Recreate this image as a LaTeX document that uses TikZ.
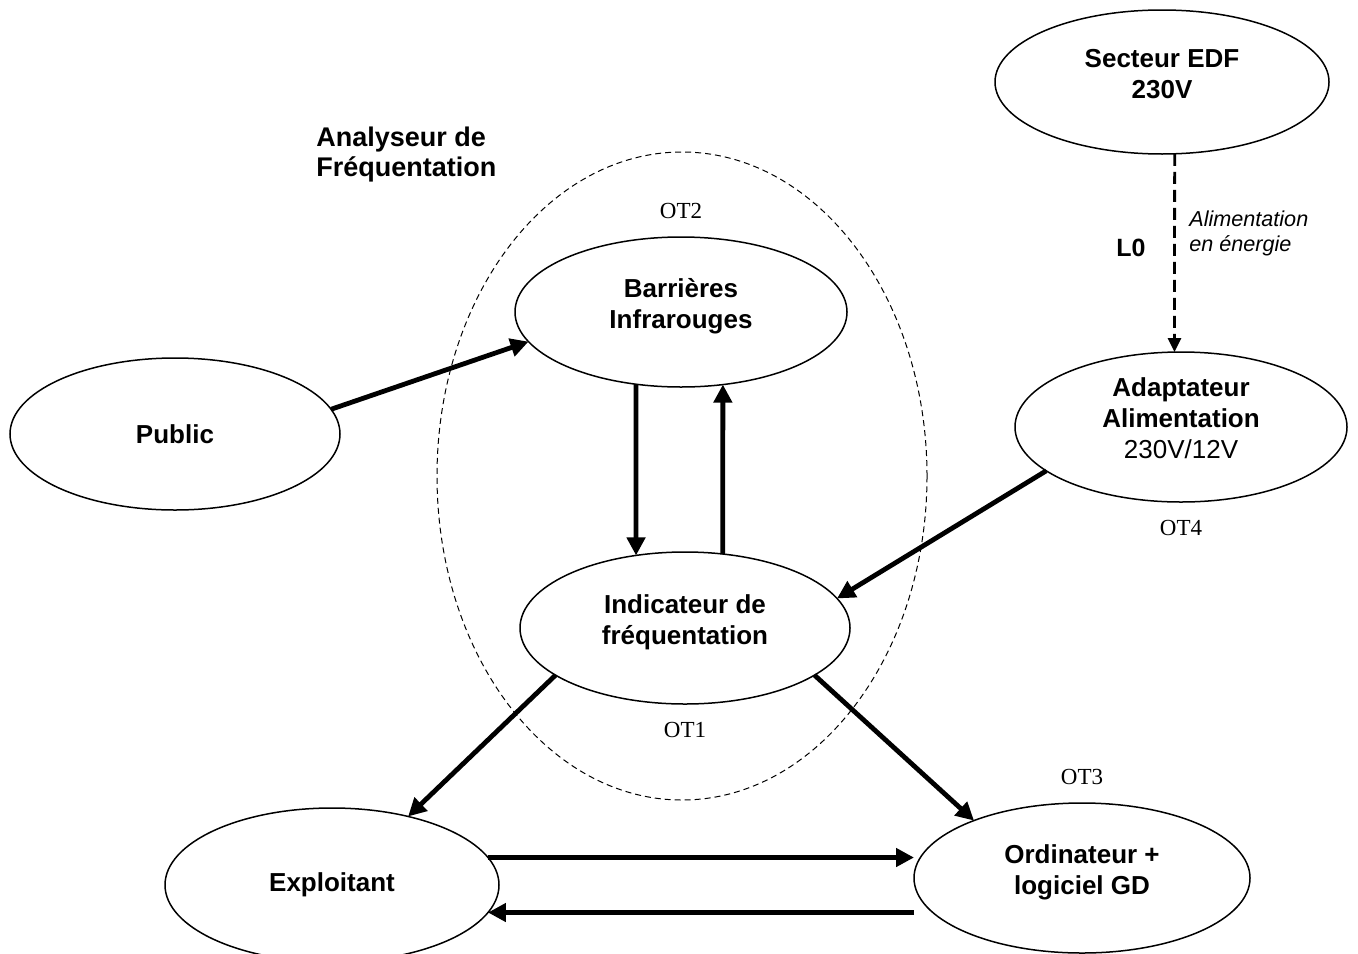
\documentclass[tikz,border=0pt]{standalone}
\usepackage{fontspec}
\setmainfont{Liberation Serif}
\newfontfamily\arial{Liberation Sans}
\usetikzlibrary{positioning,shapes.geometric,arrows.meta}

% cale sous la derniere ligne pour remonter le texte
\newcommand{\cale}{\rule[-8.5pt]{0pt}{8.5pt}}

\tikzset{
  etat/.style={ellipse, draw, line width=0.75pt, inner sep=0pt, outer sep=0pt,
    minimum width=166pt, minimum height=75pt, align=center,
    font=\arial\bfseries\fontsize{13}{15.5}\selectfont},
  groupe/.style={ellipse, draw, dash pattern=on 3pt off 2pt, line width=0.5pt,
    inner sep=0pt, outer sep=0pt},
  ot/.style={inner sep=0pt, font=\fontsize{11.5}{13}\selectfont},
  fleche/.style={-{Triangle[length=9pt,width=9pt]}, line width=2.4pt},
  liaison/.style={-{Triangle[length=7pt,width=6.5pt]}, line width=1.4pt,
    dash pattern=on 6pt off 3pt},
}

\begin{document}
\begin{tikzpicture}[x=0.5pt, y=-0.5pt]
  \useasboundingbox (0,0) rectangle (1358,953);

  % Frontiere de l'analyseur
  \node[groupe, minimum width=245pt, minimum height=324pt] (analyseur) at (682,476) {};
  \node[anchor=west, align=left, inner sep=0pt,
    font=\arial\bfseries\fontsize{13.5}{15}\selectfont] (titre) at (316,155)
    {Analyseur de\\Fréquentation};

  % Elements du systeme
  \node[etat, minimum width=167pt, minimum height=72pt] (edf) at (1162,82) {Secteur EDF\\230V\cale};
  \node[etat] (adap) at (1181,427) {Adaptateur\\Alimentation\\\mdseries 230V/12V\cale};
  \node[etat, minimum width=165pt, minimum height=76pt] (pub) at (175,434) {Public};
  \node[etat] (barr) at (681,312) {Barrières\\Infrarouges\cale};
  \node[etat, minimum width=165pt, minimum height=76pt] (ind) at (685,628) {Indicateur de\\fréquentation\cale};
  \node[etat, minimum width=167pt, minimum height=77pt] (expl) at (332,885) {Exploitant};
  \node[etat, minimum width=168pt] (ord) at (1082,878) {Ordinateur +\\logiciel GD\cale};

  % Etiquettes OT
  \node[ot, above=9pt of barr] (ot2) {OT2};
  \node[ot, below=9pt of ind] (ot1) {OT1};
  \node[ot, below=9pt of adap] (ot4) {OT4};
  \node[ot, above=9pt of ord] (ot3) {OT3};

  % Liaison L0
  \draw[liaison] (edf.-80) -- (adap.95);
  \node[font=\arial\bfseries\fontsize{12.5}{14}\selectfont] (lzero) at (1131,248) {L0};
  \node[anchor=west, align=left, inner sep=0pt,
    font=\arial\itshape\fontsize{10.8}{12.5}\selectfont] (alim) at (1189,233)
    {Alimentation\\en énergie};

  % Flux
  \draw[fleche] (pub.9) -- (barr.191);
  \draw[fleche] (barr.238) -- (ind.124);
  \draw[fleche] (ind.63) -- (barr.-60);
  \draw[fleche] (adap.198) -- (ind.11);
  \draw[fleche] (ind.200) -- (expl.42);
  \draw[fleche] (ind.-20) -- (ord.152);
  \draw[fleche] (expl.10) -- (expl.10 -| ord.west);
  \draw[fleche] (ord.west |- expl.-10) -- (expl.-10);
\end{tikzpicture}
\end{document}
